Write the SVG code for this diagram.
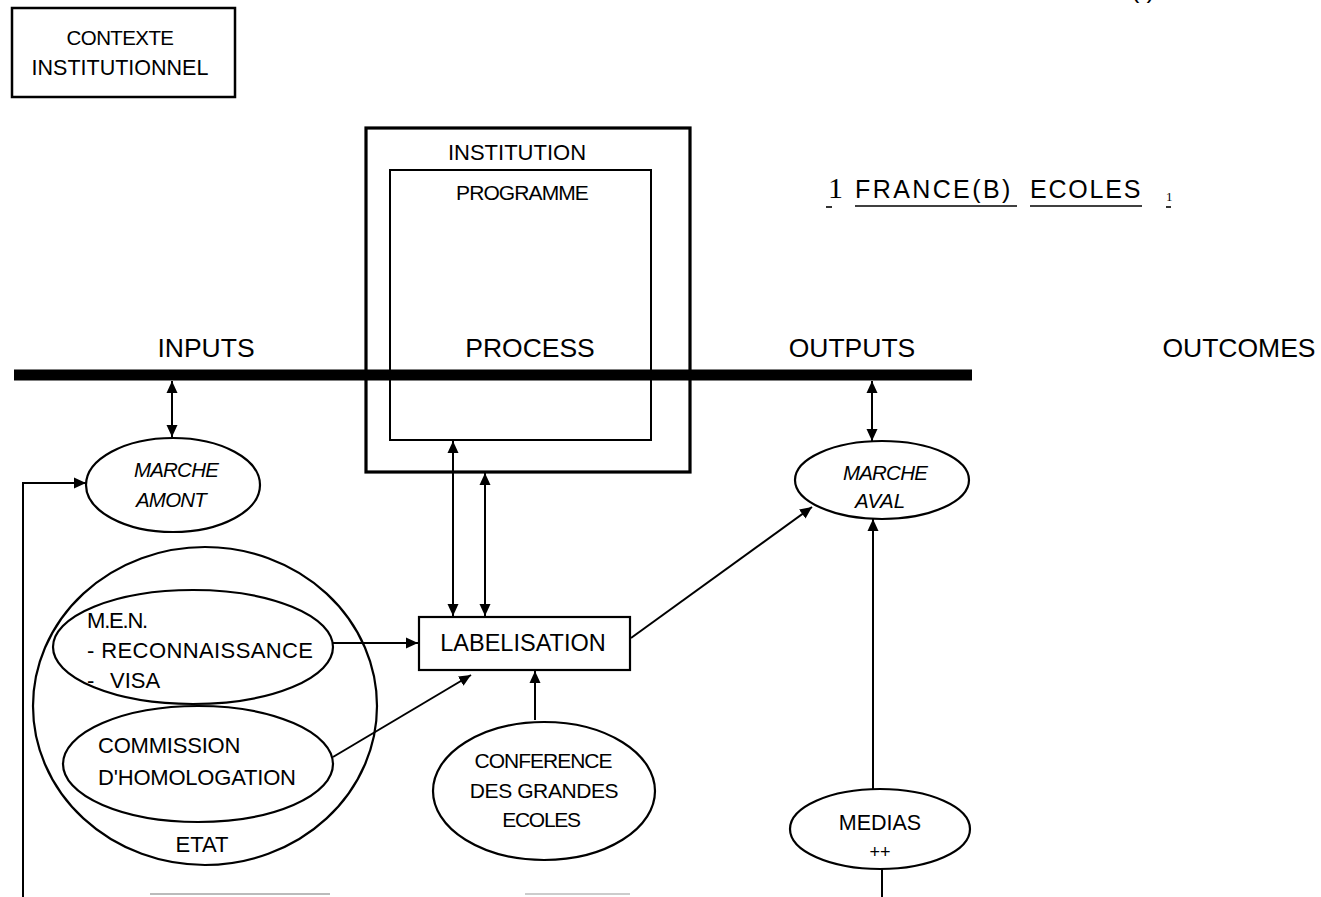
<svg xmlns="http://www.w3.org/2000/svg" width="1321" height="897" viewBox="0 0 1321 897">
<style>
.t{font-family:"Liberation Sans",Arial,sans-serif;fill:#000}
.lbl{font-size:26.5px;text-anchor:middle}
.n{font-size:22px}
.c{text-anchor:middle}
.it{font-style:italic}
.sh{fill:#fff;stroke:#000;stroke-width:2.2}
.bx{fill:none;stroke:#000}
.ln{fill:none;stroke:#000;stroke-width:2}
.ul{stroke:#000;stroke-width:1.6}
</style>
<defs>
<marker id="ah" viewBox="0 0 12 12" refX="12" refY="6" markerWidth="12" markerHeight="12" markerUnits="userSpaceOnUse" orient="auto-start-reverse">
<path d="M0,0.5 L12,6 L0,11.5 z" fill="#000"/>
</marker>
</defs>
<rect width="1321" height="897" fill="#fff"/>

<g id="contexte">
<rect class="bx" x="12" y="8" width="223" height="89" stroke-width="2.5"/>
<text class="t c" x="120" y="45" font-size="20.5" letter-spacing="-0.6">CONTEXTE</text>
<text class="t c" x="120" y="75" font-size="21.5">INSTITUTIONNEL</text>
</g>

<g id="corner">
<text class="t c" x="1143" y="-2" font-size="26">( )</text>
</g>

<g id="title">
<text x="828" y="198" font-family="'Liberation Serif','Times New Roman',serif" font-size="30">1</text>
<line class="ul" x1="826" y1="207" x2="832" y2="207"/>
<text class="t" x="855" y="198" font-size="25" letter-spacing="2.4">FRANCE(B)</text>
<line class="ul" x1="855" y1="206" x2="1017" y2="206"/>
<text class="t" x="1030" y="198" font-size="25" letter-spacing="1.8">ECOLES</text>
<line class="ul" x1="1030" y1="206" x2="1142" y2="206"/>
<text x="1166" y="201" font-family="'Liberation Serif','Times New Roman',serif" font-size="13">1</text>
<line class="ul" x1="1166" y1="207" x2="1171" y2="207"/>
</g>

<g id="institution">
<rect class="bx" x="366" y="128" width="324" height="344" stroke-width="3.2"/>
<text class="t c" x="517" y="160" font-size="22">INSTITUTION</text>
</g>

<g id="programme">
<rect class="bx" x="390" y="170" width="261" height="270" stroke-width="2"/>
<text class="t c" x="522" y="200" font-size="21" letter-spacing="-0.9">PROGRAMME</text>
</g>

<g id="axis">
<line x1="14" y1="375" x2="972" y2="375" stroke="#000" stroke-width="11"/>
<text class="t lbl" x="206" y="357">INPUTS</text>
<text class="t lbl" x="530" y="357">PROCESS</text>
<text class="t lbl" x="852" y="357">OUTPUTS</text>
<text class="t lbl" x="1239" y="357">OUTCOMES</text>
</g>

<g id="marche-amont">
<ellipse class="sh" cx="173" cy="485" rx="87" ry="47"/>
<text class="t c it" x="176" y="477" font-size="20.5" letter-spacing="-0.8">MARCHE</text>
<text class="t c it" x="171" y="507" font-size="20.5" letter-spacing="-0.8">AMONT</text>
</g>

<g id="etat">
<ellipse class="sh" cx="205" cy="706" rx="172" ry="159"/>
<text class="t c n" x="202" y="852">ETAT</text>
</g>

<g id="men">
<ellipse class="sh" cx="193" cy="647" rx="140" ry="57"/>
<text class="t n" x="87" y="628" letter-spacing="-1.2">M.E.N.</text>
<text class="t n" x="87" y="658" letter-spacing="0.4">- RECONNAISSANCE</text>
<text class="t n" x="87" y="688">-<tspan x="110">VISA</tspan></text>
</g>

<g id="commission">
<ellipse class="sh" cx="198" cy="764" rx="135" ry="58"/>
<text class="t n" x="98" y="753" letter-spacing="-0.2">COMMISSION</text>
<text class="t n" x="98" y="785" letter-spacing="-0.2">D'HOMOLOGATION</text>
</g>

<g id="labelisation">
<rect x="419" y="617" width="211" height="53" fill="#fff" stroke="#000" stroke-width="2.2"/>
<text class="t c" x="523" y="651" font-size="23.5">LABELISATION</text>
</g>

<g id="conference">
<ellipse class="sh" cx="544" cy="791" rx="111" ry="69"/>
<text class="t c" x="543" y="768" font-size="21" letter-spacing="-1">CONFERENCE</text>
<text class="t c" x="544" y="798" font-size="21" letter-spacing="-0.4">DES GRANDES</text>
<text class="t c" x="541" y="827" font-size="21" letter-spacing="-1.3">ECOLES</text>
</g>

<g id="marche-aval">
<ellipse class="sh" cx="882" cy="480" rx="87" ry="39"/>
<text class="t c it" x="885" y="480" font-size="20.5" letter-spacing="-0.8">MARCHE</text>
<text class="t c it" x="880" y="508" font-size="20.5">AVAL</text>
</g>

<g id="medias">
<ellipse class="sh" cx="880" cy="829" rx="90" ry="40"/>
<text class="t c" x="880" y="830" font-size="21.5">MEDIAS</text>
<text class="t c" x="880" y="858" font-size="18">++</text>
</g>

<g id="connectors">
<line class="ln" x1="172" y1="381" x2="172" y2="437" marker-start="url(#ah)" marker-end="url(#ah)"/>
<polyline class="ln" points="23,897 23,483 86,483" marker-end="url(#ah)"/>
<line class="ln" x1="872" y1="381" x2="872" y2="441" marker-start="url(#ah)" marker-end="url(#ah)"/>
<line class="ln" x1="453" y1="441" x2="453" y2="616" marker-start="url(#ah)" marker-end="url(#ah)"/>
<line class="ln" x1="485" y1="473" x2="485" y2="616" marker-start="url(#ah)" marker-end="url(#ah)"/>
<line class="ln" x1="333" y1="643" x2="418" y2="643" marker-end="url(#ah)"/>
<line class="ln" x1="333" y1="757" x2="471" y2="675" stroke-width="2.6" marker-end="url(#ah)"/>
<line class="ln" x1="535" y1="720" x2="535" y2="671" marker-end="url(#ah)"/>
<line class="ln" x1="631" y1="638" x2="812" y2="507" stroke-width="3" marker-end="url(#ah)"/>
<line class="ln" x1="873" y1="789" x2="873" y2="519" stroke-width="1.6" marker-end="url(#ah)"/>
<line class="ln" x1="882" y1="869" x2="882" y2="897" stroke-width="1.8"/>
<line x1="150" y1="894" x2="330" y2="894" stroke="#bbb" stroke-width="2"/>
<line x1="525" y1="894" x2="630" y2="894" stroke="#ccc" stroke-width="2"/>
</g>
</svg>
